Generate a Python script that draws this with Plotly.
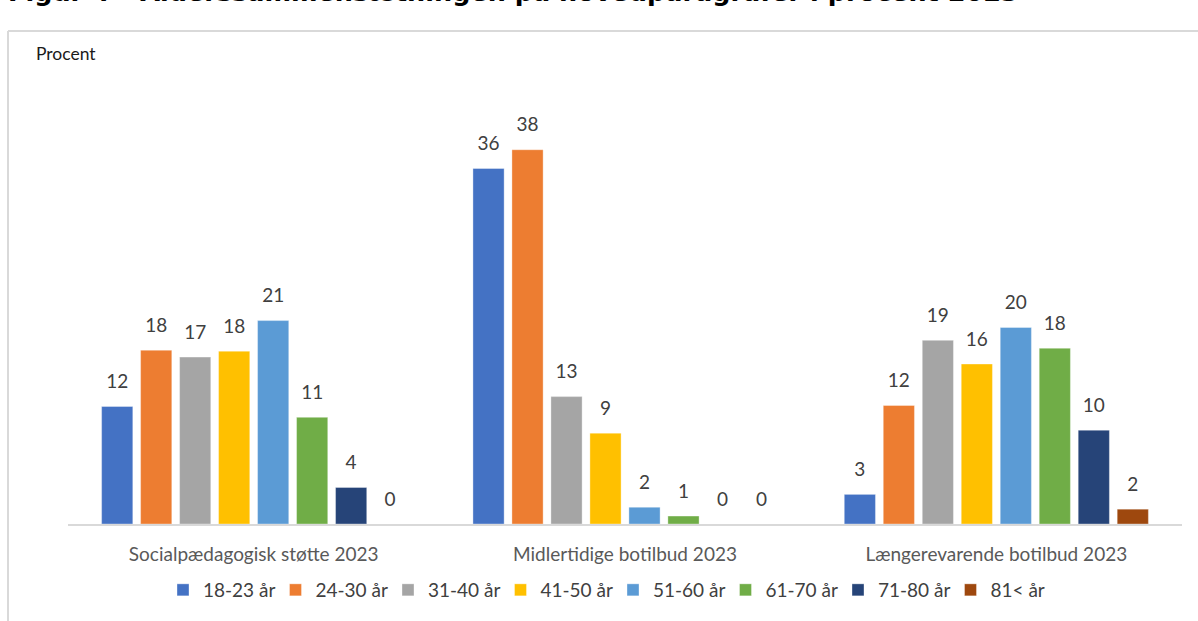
import plotly.graph_objects as go

categories = ["Socialpædagogisk støtte 2023", "Midlertidige botilbud 2023", "Længerevarende botilbud 2023"]
age_groups = ["18-23 år", "24-30 år", "31-40 år", "41-50 år", "51-60 år", "61-70 år", "71-80 år", "81< år"]
values = {
    "18-23 år": [11.9, 36.0, 3.0],
    "24-30 år": [17.6, 37.9, 12.0],
    "31-40 år": [16.9, 12.9, 18.6],
    "41-50 år": [17.5, 9.2, 16.2],
    "51-60 år": [20.6, 1.7, 19.9],
    "61-70 år": [10.8, 0.8, 17.8],
    "71-80 år": [3.7, 0.0, 9.5],
    "81< år": [0.0, 0.0, 1.5],
}
colors = ["#4472C4", "#ED7D31", "#A5A5A5", "#FFC000", "#5B9BD5", "#70AD47", "#264478", "#9E480E"]

title_text = "Figur 4 – Alderssammensætningen på hovedparagrafer i procent 2023"
y_label = "Procent"

W, H = 1198, 621
L, R, T, B = 68, 16, 129, 97
PW, PH = W - L - R, H - T - B


def px(xp):
    return (xp - L) / PW


def py(yp):
    return (H - B - yp) / PH


FONT = "Lato, Carlito, Calibri, sans-serif"
FS = 19
GAP = 0.16

fig = go.Figure()
for name, col in zip(age_groups, colors):
    fig.add_trace(go.Bar(
        name=name, x=categories, y=values[name],
        marker=dict(color=col, line=dict(color="rgba(255,255,255,0.35)", width=1)),
        hoverinfo="skip",
    ))
for name in age_groups:
    fig.add_trace(go.Scatter(
        x=categories, y=values[name], mode="markers+text",
        text=[f"{v:.0f}" for v in values[name]], textposition="top center",
        marker=dict(size=20, opacity=0), showlegend=False, cliponaxis=False,
        textfont=dict(family=FONT, size=FS, color="#404040"), hoverinfo="skip",
    ))

fig.update_layout(
    width=W, height=H,
    margin=dict(l=L, r=R, t=T, b=B, autoexpand=False),
    paper_bgcolor="white", plot_bgcolor="white",
    barmode="group", bargap=GAP, bargroupgap=0.2,
    scattermode="group", scattergap=GAP,
    font=dict(family=FONT, size=FS, color="#404040"),
    showlegend=True,
    legend=dict(orientation="h", x=px(163), xanchor="left", y=py(590), yanchor="middle",
                font=dict(family=FONT, size=FS, color="#404040"),
                itemwidth=30, entrywidth=67.5, tracegroupgap=0, bgcolor="rgba(0,0,0,0)"),
    xaxis=dict(showline=True, linecolor="#D9D9D9", linewidth=1.5, ticks="", showgrid=False,
               tickfont=dict(family=FONT, size=FS, color="#595959"), ticklabelstandoff=12),
    yaxis=dict(range=[0, 40], visible=False, showgrid=False, zeroline=False),
)

# frame
fig.add_shape(type="line", xref="paper", yref="paper", x0=px(8), x1=px(1210), y0=py(31), y1=py(31),
              line=dict(color="#D9D9D9", width=2))
fig.add_shape(type="line", xref="paper", yref="paper", x0=px(8), x1=px(8), y0=py(31), y1=py(640),
              line=dict(color="#D9D9D9", width=2))

fig.add_annotation(text=y_label, xref="paper", yref="paper", x=px(34), y=py(53), xanchor="left",
                   yanchor="middle", showarrow=False, font=dict(family=FONT, size=17.5, color="#1a1a1a"))
fig.add_annotation(text="<b>" + title_text + "</b>", xref="paper", yref="paper", x=px(6), y=py(-8),
                   xanchor="left", yanchor="middle", showarrow=False,
                   font=dict(family="DejaVu Sans", size=25.5, color="#000000"))

fig.write_html("out.html", config={"displayModeBar": False},
               post_script="document.body.style.margin='0';")
